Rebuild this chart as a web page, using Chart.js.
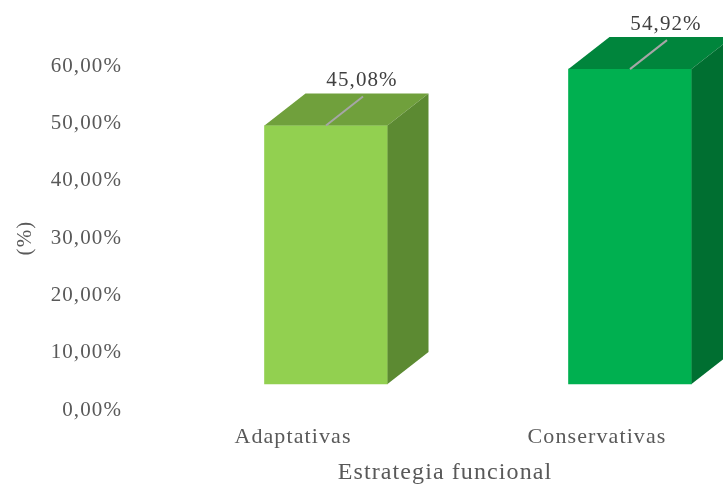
<!DOCTYPE html>
<html>
<head>
<meta charset="utf-8">
<script src="https://cdn.jsdelivr.net/npm/chart.js@4"></script>
<style>
    html, body { margin: 0; padding: 0; background: #fff; overflow: hidden; }
    #wrap { width: 749px; height: 488px; }
</style>
</head>
<body>
<div id="wrap"><canvas id="chart" width="749" height="488"></canvas></div>
<script>
    var categories = ['Adaptativas', 'Conservativas'];
    var porcentajes = [45.08, 54.92];
    var yTicks = [0, 10, 20, 30, 40, 50, 60];

    var frontColors = ['#92D050', '#00B050'];
    var topColors = ['#70A03C', '#00853C'];
    var sideColors = ['#5C8A32', '#006F31'];

    var DEPTH_X = 41, DEPTH_Y = 32;
    var FONT = '"Liberation Serif", "Times New Roman", serif';

    function formatPct(v) {
        return v.toFixed(2).replace('.', ',') + '%';
    }

    // el texto de Excel sale algo espaciado
    var spacingPlugin = {
        id: 'spacing',
        beforeLayout: function (chart) { chart.ctx.letterSpacing = '1.1px'; },
        beforeDraw: function (chart) { chart.ctx.letterSpacing = '1.1px'; }
    };

    // caras superior y lateral + etiquetas de datos
    var cubePlugin = {
        id: 'cube3d',
        afterDatasetsDraw: function (chart) {
            var ctx = chart.ctx;
            var meta = chart.getDatasetMeta(0);
            meta.data.forEach(function (bar, i) {
                var p = bar.getProps(['x', 'y', 'base', 'width'], true);
                var l = p.x - p.width / 2, r = p.x + p.width / 2;
                ctx.save();
                ctx.fillStyle = topColors[i];
                ctx.beginPath();
                ctx.moveTo(l, p.y);
                ctx.lineTo(l + DEPTH_X, p.y - DEPTH_Y);
                ctx.lineTo(r + DEPTH_X, p.y - DEPTH_Y);
                ctx.lineTo(r, p.y);
                ctx.closePath();
                ctx.fill();

                ctx.fillStyle = sideColors[i];
                ctx.beginPath();
                ctx.moveTo(r, p.y);
                ctx.lineTo(r + DEPTH_X, p.y - DEPTH_Y);
                ctx.lineTo(r + DEPTH_X, p.base - DEPTH_Y);
                ctx.lineTo(r, p.base);
                ctx.closePath();
                ctx.fill();

                // línea guía
                ctx.strokeStyle = '#A6A6A6';
                ctx.lineWidth = 2;
                ctx.beginPath();
                ctx.moveTo(p.x, p.y);
                ctx.lineTo(p.x + 37, p.y - 29);
                ctx.stroke();

                ctx.fillStyle = '#404040';
                ctx.font = '21px ' + FONT;
                ctx.textAlign = 'center';
                ctx.textBaseline = 'middle';
                ctx.fillText(formatPct(porcentajes[i]), p.x + 36, p.y - 45);
                ctx.restore();
            });
        }
    };

    new Chart(document.getElementById('chart'), {
        type: 'bar',
        data: {
            labels: categories,
            datasets: [{
                data: categories.map(function (c, i) { return { x: i, y: porcentajes[i] }; }),
                backgroundColor: frontColors,
                borderWidth: 0,
                barThickness: 123,
                xAxisID: 'x2',
                yAxisID: 'y2',
                clip: false
            }]
        },
        options: {
            responsive: false,
            animation: false,
            events: [],
            layout: { padding: { top: 66, left: 0, right: 0, bottom: 0 } },
            plugins: {
                legend: { display: false },
                tooltip: { enabled: false }
            },
            scales: {
                x: {
                    type: 'category',
                    grid: { display: false, drawTicks: false },
                    border: { display: false },
                    ticks: {
                        color: '#595959',
                        font: { family: FONT, size: 22 },
                        padding: 14,
                        maxRotation: 0
                    },
                    title: {
                        display: true,
                        text: 'Estrategia funcional',
                        color: '#595959',
                        font: { family: FONT, size: 24 },
                        padding: { top: 0, bottom: 1 }
                    },
                    afterFit: function (scale) { scale.height = 78; }
                },
                // ejes ocultos para la cara frontal de las barras
                x2: {
                    type: 'linear',
                    display: false,
                    offset: false,
                    min: -0.6086,
                    max: 1.3914
                },
                y2: {
                    type: 'linear',
                    display: false,
                    min: -4.535,
                    max: 55.465
                },
                y: {
                    min: 0,
                    max: 60,
                    grid: { display: false, drawTicks: false },
                    border: { display: false },
                    afterBuildTicks: function (scale) {
                        scale.ticks = yTicks.map(function (v) { return { value: v }; });
                    },
                    ticks: {
                        color: '#595959',
                        font: { family: FONT, size: 21 },
                        padding: 19,
                        callback: function (v) { return formatPct(v); }
                    },
                    title: {
                        display: true,
                        text: '(%)',
                        color: '#595959',
                        font: { family: FONT, size: 21 },
                        padding: { top: 13, bottom: 0 }
                    },
                    afterFit: function (scale) { scale.width = 141; }
                }
            }
        },
        plugins: [spacingPlugin, cubePlugin]
    });
</script>
</body>
</html>
